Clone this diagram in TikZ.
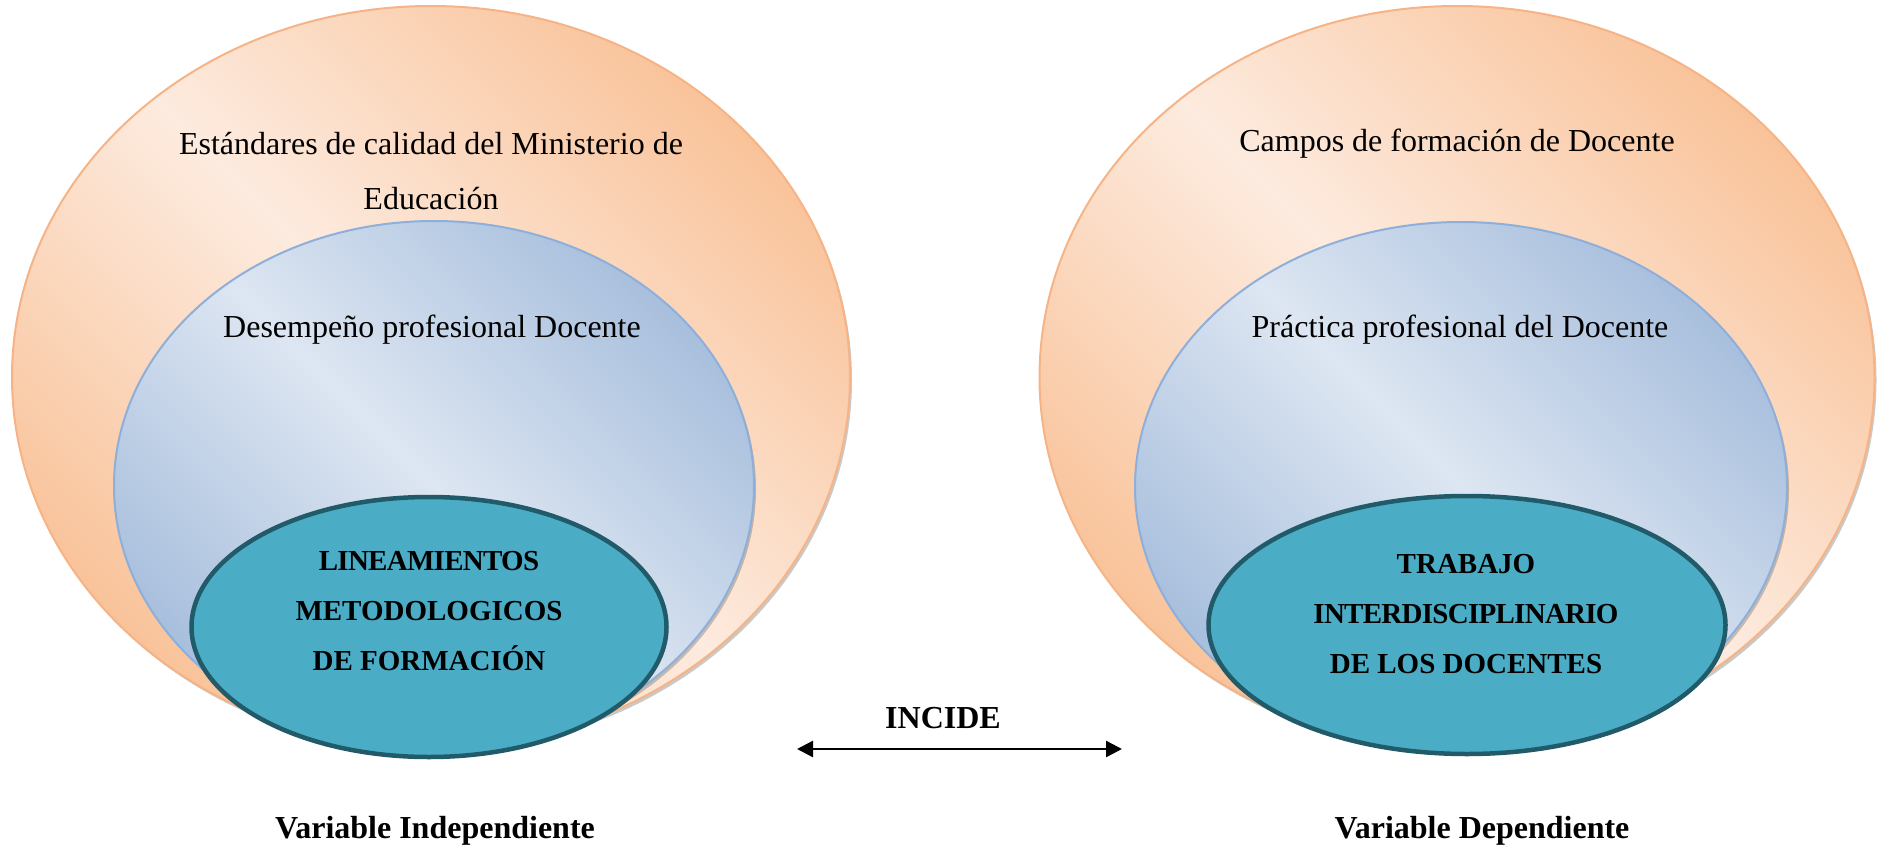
\documentclass[tikz,border=0pt]{standalone}
\usepackage{fontspec}
\setmainfont{Liberation Serif}
\usetikzlibrary{shapes.geometric}
\usetikzlibrary{arrows.meta}
\usetikzlibrary{shadows}
\definecolor{naranjaO}{HTML}{F9C39A}
\definecolor{naranjaC}{HTML}{FDEBDF}
\definecolor{naranjaB}{HTML}{F6B486}
\definecolor{azulO}{HTML}{A8BFDD}
\definecolor{azulC}{HTML}{DDE6F2}
\definecolor{azulB}{HTML}{8DAFDA}
\definecolor{tealF}{HTML}{4BACC6}
\definecolor{tealB}{HTML}{215A69}
\tikzset{
  campo/.style = {ellipse, inner sep=0pt, draw=naranjaB, line width=2pt,
    top color=naranjaO, bottom color=naranjaO, middle color=naranjaC, shading angle=-45,
    drop shadow={shadow xshift=2pt, shadow yshift=-3pt, opacity=0.3, fill=black!70}},
  nivel/.style = {ellipse, inner sep=0pt, draw=azulB, line width=2pt,
    top color=azulO, bottom color=azulO, middle color=azulC, shading angle=-45,
    drop shadow={shadow xshift=2pt, shadow yshift=-3pt, opacity=0.3, fill=black!70}},
  nucleo/.style = {ellipse, inner sep=0pt, draw=tealB, fill=tealF, line width=4.5pt},% elipse interior
  rotulo/.style = {inner sep=0pt, font=\fontsize{32}{38}\selectfont},
  rotulob/.style = {inner sep=0pt, align=center, font=\fontsize{29}{50}\selectfont\bfseries},
  titulo/.style = {inner sep=0pt, font=\fontsize{32}{38}\selectfont\bfseries},
  flecha/.style = {{Triangle[length=16pt,width=16pt]}-{Triangle[length=16pt,width=16pt]}, line width=2.5pt},
}
\begin{document}
\begin{tikzpicture}[x=1pt,y=-1pt]
  \useasboundingbox (0,0) rectangle (1877,848);

  % variable independiente
  \node[campo, minimum width=838pt, minimum height=742pt] (campoI) at (431,377) {};
  \node[nivel, minimum width=640pt, minimum height=530pt] (nivelI) at (434,486) {};
  \node[nucleo, minimum width=475pt, minimum height=260pt] (nucleoI) at (429,627) {};

  \node[rotulo, anchor=base] (estandares) at (431,155) {Estándares de calidad del Ministerio de};
  \node[rotulo, anchor=base] (educacion) at (431,209) {Educación};
  \node[rotulo, anchor=base] (desempeno) at (432,337) {Desempeño profesional Docente};
  \node[rotulob] (lineamientos) at (429,611)
    {{\addfontfeature{LetterSpace=-2.5}LINEAMIENTOS}\\METODOLOGICOS\\DE FORMACIÓN};
  \node[titulo, anchor=base] (independiente) at (435,838) {Variable Independiente};

  % variable dependiente
  \node[campo, minimum width=835pt, minimum height=742pt] (campoD) at (1457,377) {};
  \node[nivel, minimum width=652pt, minimum height=530pt] (nivelD) at (1461,487) {};
  \node[nucleo, minimum width=517pt, minimum height=258pt] (nucleoD) at (1467,625) {};

  \node[rotulo, anchor=base] (campos) at (1457,152) {Campos de formación de Docente};
  \node[rotulo, anchor=base] (practica) at (1460,337) {Práctica profesional del Docente};
  \node[rotulob] (trabajo) at (1466,614)
    {TRABAJO\\{\addfontfeature{LetterSpace=-2.5}INTERDISCIPLINARIO}\\DE LOS DOCENTES};
  \node[titulo, anchor=base] (dependiente) at (1482,838) {Variable Dependiente};

  % relacion
  \node[titulo, anchor=base] (incide) at (943,728) {INCIDE};
  \coordinate (incIzq) at (797,749);
  \coordinate (incDer) at (1122,749);
  \draw[flecha] (incIzq) -- (incDer);
\end{tikzpicture}
\end{document}
